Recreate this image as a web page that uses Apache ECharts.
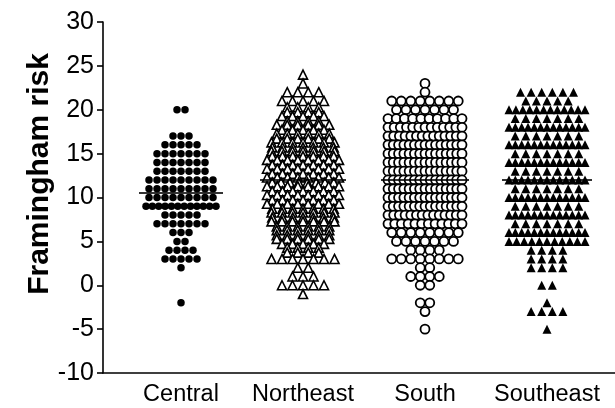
<!DOCTYPE html>
<html><head><meta charset="utf-8">
<script src="https://cdn.jsdelivr.net/npm/echarts@6/dist/echarts.min.js"></script>
<style>html,body{margin:0;padding:0;background:#fff}#c{width:615px;height:408px}</style>
</head><body><div id="c"></div>
<script>
// ---- data (frequency tables: value -> number of subjects) ----
const categories = ['Central', 'Northeast', 'South', 'Southeast'];
const yMin = -10, yMax = 30, yStep = 5;
const yTitle = 'Framingham risk';

const centralValues = [20, 17, 16, 15, 14, 13, 12, 11, 10, 9, 8, 7, 6, 5, 4, 3, 2, -2];
const centralCounts = [2, 3, 5, 7, 7, 7, 9, 9, 9, 12, 5, 7, 3, 2, 4, 5, 1, 1];

const northeastValues = [24, 23, 22, 21, 20, 19, 18, 17, 16, 15, 14, 13, 12, 11, 10, 9, 8, 7, 6, 5, 4, 3, 2, 1, 0, -1];
const northeastCounts = [1, 1, 4, 5, 8, 9, 11, 12, 14, 14, 15, 15, 16, 15, 15, 15, 14, 13, 12, 11, 8, 7, 2, 3, 5, 1];

const southValues = [23, 22, 21, 20, 19, 18, 17, 16, 15, 14, 13, 12, 11, 10, 9, 8, 7, 6, 5, 4, 3, 2, 1, 0, -2, -3, -5];
const southCounts = [1, 1, 8, 7, 10, 13, 14, 15, 15, 15, 15, 15, 15, 15, 15, 14, 12, 8, 7, 4, 8, 2, 4, 2, 2, 1, 1];

const southeastValues = [22, 21, 20, 19, 18, 17, 16, 15, 14, 13, 12, 11, 10, 9, 8, 7, 6, 5, 4, 3, 2, 0, -2, -3, -5];
const southeastCounts = [6, 5, 12, 7, 13, 7, 13, 7, 13, 7, 13, 7, 13, 7, 13, 7, 13, 11, 4, 4, 4, 2, 1, 4, 1];

const groups = [
  { values: centralValues, counts: centralCounts },
  { values: northeastValues, counts: northeastCounts },
  { values: southValues, counts: southCounts },
  { values: southeastValues, counts: southeastCounts }
];

// ---- styles / layout parameters (pixels) ----
const FONT = "'Liberation Sans', Arial, Helvetica, sans-serif";
const styles = [
  { symbol: 'circle',   size: 7.5, fill: '#000', bw: 0,   s: 8,    wmax: 70, sub: 1 },
  { symbol: 'triangle', size: 9,   fill: '#fff', bw: 1.6, s: 10.5, wmax: 72, sub: 2 },
  { symbol: 'circle',   size: 9,   fill: '#fff', bw: 1.8, s: 9.5,  wmax: 74, sub: 1 },
  { symbol: 'triangle', size: 9,   fill: '#000', bw: 0,   s: 10.6, wmax: 76, sub: 1 }
];

function rowOffsets(m, s, wmax, shift) {
  const sp = m > 1 ? Math.min(s, wmax / (m - 1)) : 0;
  const out = [];
  for (let i = 0; i < m; i++) out.push((i - (m - 1) / 2) * sp + shift);
  return out;
}

function layoutGroup(gi) {
  const g = groups[gi], st = styles[gi];
  const items = [];
  const K = Math.floor(st.wmax / st.s) + 1;
  g.values.forEach((v, k) => {
    const n = g.counts[k];
    if (st.sub === 2 && n > K) {
      const a = Math.ceil(n / 2), b = n - a;
      rowOffsets(a, st.s, st.wmax, 0).forEach(dx => items.push({ value: [gi, v], symbolOffset: [dx, -2.5] }));
      rowOffsets(b, st.s, st.wmax - st.s, 0).forEach(dx => items.push({ value: [gi, v], symbolOffset: [dx, 2.5] }));
    } else {
      rowOffsets(n, st.s, st.wmax, 0).forEach(dx => items.push({ value: [gi, v], symbolOffset: [dx, 0] }));
    }
  });
  return items;
}

function median(g) {
  const all = [];
  g.values.forEach((v, k) => { for (let i = 0; i < g.counts[k]; i++) all.push(v); });
  all.sort((a, b) => a - b);
  const n = all.length;
  return n % 2 ? all[(n - 1) / 2] : (all[n / 2 - 1] + all[n / 2]) / 2;
}

const series = groups.map((g, gi) => ({
  type: 'scatter',
  xAxisIndex: 1, yAxisIndex: 1,
  symbol: styles[gi].symbol,
  symbolSize: styles[gi].size,
  itemStyle: { color: styles[gi].fill, borderColor: '#000', borderWidth: styles[gi].bw, opacity: 1 },
  emphasis: { disabled: true },
  data: layoutGroup(gi),
  z: 2
}));

series.push({
  type: 'scatter',
  xAxisIndex: 1, yAxisIndex: 1,
  symbol: 'rect',
  itemStyle: { color: '#000' },
  emphasis: { disabled: true },
  data: groups.map((g, gi) => ({ value: [gi, median(g)], symbolSize: [styles[gi].wmax + 14, 2] })),
  z: 5
});

const chart = echarts.init(document.getElementById('c'), null, { renderer: 'canvas' });
chart.setOption({
  animation: false,
  backgroundColor: '#fff',
  grid: [
    { left: 103, right: 0, top: 22, bottom: 35 },
    { left: 120, right: 7, top: 22, bottom: 35 }
  ],
  graphic: [{
    type: 'text', x: 40, y: 174, rotation: Math.PI / 2,
    style: { text: yTitle, fill: '#000', font: "bold 30px " + FONT, align: 'center', verticalAlign: 'middle' }
  }],
  xAxis: [
    { type: 'value', gridIndex: 0, min: 0, max: 1,
      axisLine: { show: true, onZero: false, lineStyle: { color: '#000', width: 1.6 } },
      axisTick: { show: false }, axisLabel: { show: false }, splitLine: { show: false } },
    { type: 'category', gridIndex: 1, data: categories,
      axisLine: { show: false }, axisTick: { show: false }, splitLine: { show: false },
      axisLabel: { color: '#000', fontSize: 23.5, fontFamily: FONT, margin: 10, interval: 0 } }
  ],
  yAxis: [
    { type: 'value', gridIndex: 0, min: yMin, max: yMax, interval: yStep,
      axisLine: { show: true, lineStyle: { color: '#000', width: 1.6 } },
      axisTick: { show: true, length: 6, lineStyle: { color: '#000', width: 1.6 } },
      axisLabel: { color: '#000', fontSize: 25, fontFamily: FONT, margin: 9 },
      splitLine: { show: false } },
    { type: 'value', gridIndex: 1, min: yMin, max: yMax, interval: yStep, show: false }
  ],
  series: series
});
</script>
</body></html>
